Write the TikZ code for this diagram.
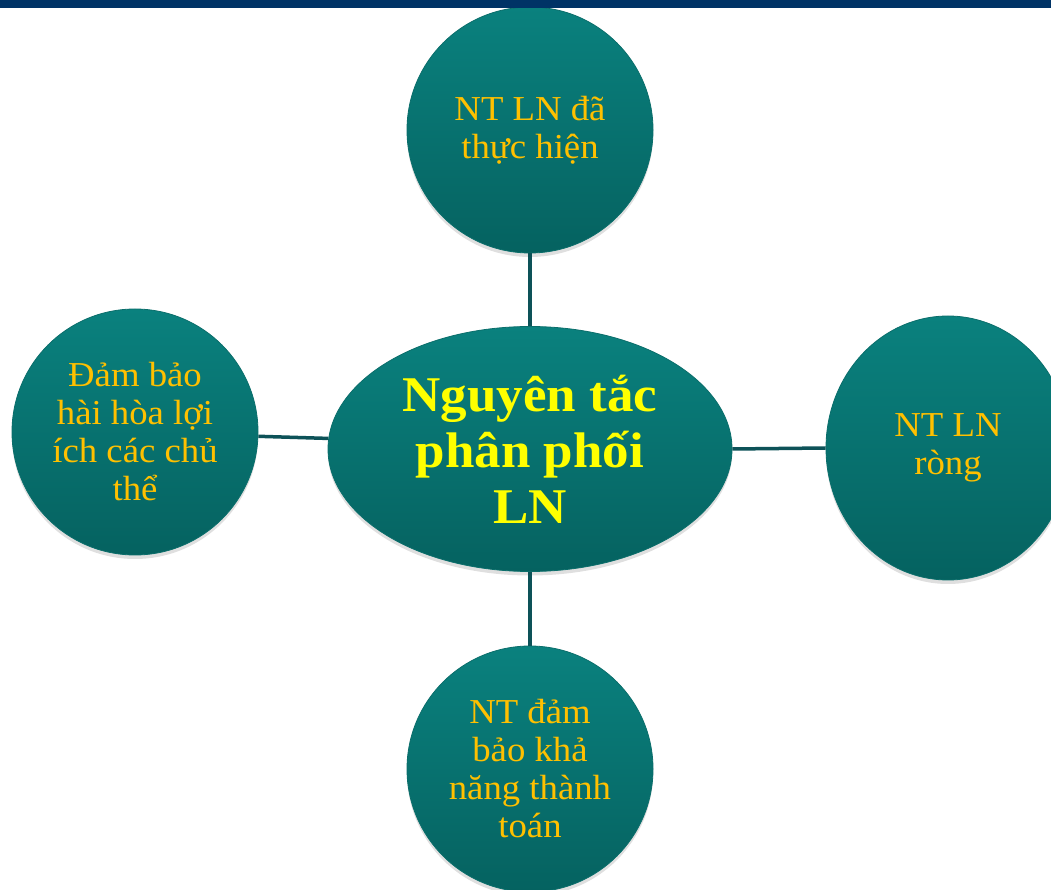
\documentclass[tikz,border=0pt]{standalone}
\usepackage{fontspec}
\setmainfont{Liberation Serif}
\newfontfamily\bubblefont[FakeStretch=1.05]{Liberation Serif}
\newfontfamily\hubfont[FakeStretch=1.06]{Liberation Serif}
\usetikzlibrary{shapes.geometric,shadows}
\definecolor{navybar}{HTML}{003366}
\definecolor{tealtop}{HTML}{0A817E}
\definecolor{tealbot}{HTML}{056260}
\definecolor{tealedge}{HTML}{0B6E6B}
\definecolor{linkcol}{HTML}{0D5258}
\definecolor{goldtxt}{HTML}{FFC000}
\definecolor{yellowtxt}{HTML}{FFFF00}
\tikzset{
  bubble/.style={circle, minimum size=246pt, inner sep=0pt,
    top color=tealtop, bottom color=tealbot, draw=tealedge, line width=0.8pt,
    drop shadow={opacity=0.25, shadow xshift=0pt, shadow yshift=-4pt},
    text=goldtxt, font=\bubblefont\fontsize{35}{38}\selectfont, align=center},
  hub/.style={bubble, ellipse, minimum width=404pt, minimum height=245pt,
    text=yellowtxt, font=\hubfont\fontsize{50}{56}\selectfont\bfseries},
  link/.style={draw=linkcol, line width=3.5pt}
}
\begin{document}
\begin{tikzpicture}[x=1pt,y=1pt]
\useasboundingbox (0,0) rectangle (1051,889);
\clip (0,0) rectangle (1051,889);
\node[bubble] (top) at (530,759) {NT LN đã\\thực hiện};
\node[bubble] (left) at (135,457) {Đảm bảo\\hài hòa lợi\\ích các chủ\\thể};
\node[bubble, ellipse, minimum width=244pt, minimum height=264pt] (right) at (948,441) {NT LN\\ròng};
\node[bubble] (bottom) at (530,120) {NT đảm\\bảo khả\\năng thành\\toán};
\node[hub] (hub) at (530,440) {Nguyên tắc\\phân phối\\LN};
\draw[link] (top.south) -- (hub.north);
\draw[link] (hub.south) -- (bottom.north);
\draw[link] (left.-2) -- (hub.177.4);
\draw[link] (hub.east) -- (right.west);
\fill[navybar] (0,881) rectangle (1051,889);
\end{tikzpicture}
\end{document}
